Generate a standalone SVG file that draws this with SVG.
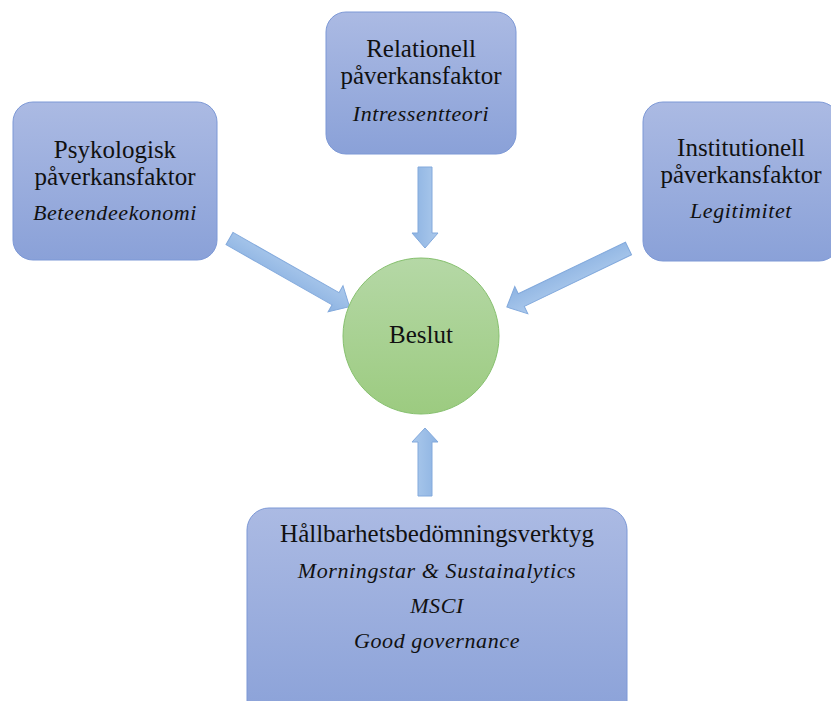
<svg xmlns="http://www.w3.org/2000/svg" width="831" height="701" viewBox="0 0 831 701">
  <defs>
    <linearGradient id="boxGrad" x1="0" y1="0" x2="0" y2="1">
      <stop offset="0" stop-color="#abbae3"/>
      <stop offset="1" stop-color="#8aa1d8"/>
    </linearGradient>
    <linearGradient id="circGrad" x1="0" y1="0" x2="0" y2="1">
      <stop offset="0" stop-color="#b5d8a6"/>
      <stop offset="1" stop-color="#9ccb80"/>
    </linearGradient>
    <linearGradient id="arrGrad" x1="0" y1="0" x2="0" y2="1">
      <stop offset="0" stop-color="#abc9ec"/>
      <stop offset="1" stop-color="#8db3e2"/>
    </linearGradient>
  </defs>
  <style>
    .box { fill: url(#boxGrad); stroke: #7c98d6; stroke-width: 1; }
    .circ { fill: url(#circGrad); stroke: #86c06e; stroke-width: 1; }
    .arr { fill: url(#arrGrad); stroke: #82a9dc; stroke-width: 1; }
    .t { font-family: "Liberation Serif", "Times New Roman", serif; font-size: 25px; fill: #111; text-anchor: middle; }
    .i { font-family: "Liberation Serif", "Times New Roman", serif; font-size: 22px; font-style: italic; fill: #111; text-anchor: middle; letter-spacing: 0.6px; }
  </style>

  <g id="connectors">
    <path class="arr" transform="translate(425,167) rotate(90)" d="M0,-7 L66,-7 L66,-13 L81,0 L66,13 L66,7 L0,7 Z"/>
    <path class="arr" transform="translate(425,496) rotate(-90)" d="M0,-7 L54,-7 L54,-13 L68,0 L54,13 L54,7 L0,7 Z"/>
    <path class="arr" transform="translate(229.5,238.5) rotate(29.6)" d="M0,-7 L122,-7 L122,-15 L138,0 L122,15 L122,7 L0,7 Z"/>
    <path class="arr" transform="translate(628.5,248.5) rotate(154.3)" d="M0,-7 L119,-7 L119,-15 L135,0 L119,15 L119,7 L0,7 Z"/>
  </g>

  <g id="psykologisk">
    <rect class="box" x="13" y="102" width="204" height="158" rx="20" ry="20"/>
    <text class="t" x="115" y="158">Psykologisk</text>
    <text class="t" x="115" y="185">påverkansfaktor</text>
    <text class="i" x="115" y="220">Beteendeekonomi</text>
  </g>

  <g id="relationell">
    <rect class="box" x="326" y="12" width="190" height="142" rx="20" ry="20"/>
    <text class="t" x="421" y="57">Relationell</text>
    <text class="t" x="421" y="84">påverkansfaktor</text>
    <text class="i" x="421" y="121">Intressentteori</text>
  </g>

  <g id="institutionell">
    <rect class="box" x="643" y="102" width="196" height="159" rx="20" ry="20"/>
    <text class="t" x="741" y="156">Institutionell</text>
    <text class="t" x="741" y="183">påverkansfaktor</text>
    <text class="i" x="741" y="218">Legitimitet</text>
  </g>

  <g id="beslut">
    <circle class="circ" cx="421" cy="336" r="78"/>
    <text class="t" x="421" y="343">Beslut</text>
  </g>

  <g id="hallbarhet">
    <rect class="box" x="247" y="508" width="380" height="215" rx="22" ry="22"/>
    <text class="t" x="437" y="542">Hållbarhetsbedömningsverktyg</text>
    <text class="i" x="437" y="578">Morningstar &amp; Sustainalytics</text>
    <text class="i" x="437" y="613">MSCI</text>
    <text class="i" x="437" y="648">Good governance</text>
  </g>
</svg>
